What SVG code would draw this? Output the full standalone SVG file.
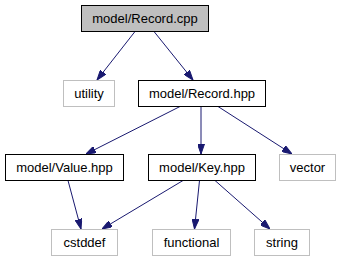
<svg xmlns="http://www.w3.org/2000/svg" width="343" height="261" viewBox="0 0 343 261">
  <style>
    .node rect { fill: #ffffff; stroke: #000000; stroke-width: 1; }
    .node.ext rect { stroke: #bfbfbf; }
    .node.root rect { fill: #bfbfbf; }
    .node text { font-family: "Liberation Sans", Arial, Helvetica, sans-serif; font-size: 13px; fill: #000000; text-anchor: middle; }
    .edges line { stroke: #191970; stroke-width: 1; fill: none; marker-end: url(#arrow); }
  </style>
  <defs>
    <marker id="arrow" viewBox="0 0 10 7" refX="10" refY="3.5" markerWidth="10" markerHeight="7" markerUnits="userSpaceOnUse" orient="auto">
      <path d="M0,0 L10,3.5 L0,7 Z" fill="#191970" stroke="#191970" stroke-width="1"/>
    </marker>
  </defs>
  <rect width="343" height="261" fill="#ffffff"/>

  <g class="edges">
    <line x1="135" y1="31.5" x2="97" y2="80"/>
    <line x1="154" y1="31.5" x2="193" y2="80"/>
    <line x1="180" y1="106.5" x2="86" y2="154"/>
    <line x1="201" y1="106.5" x2="201" y2="154"/>
    <line x1="218" y1="106.5" x2="292" y2="154"/>
    <line x1="68" y1="180.5" x2="81" y2="229"/>
    <line x1="183" y1="180.5" x2="102" y2="229"/>
    <line x1="199.5" y1="180.5" x2="194.5" y2="229"/>
    <line x1="215" y1="180.5" x2="270" y2="229"/>
  </g>

  <g id="record_cpp" class="node root">
    <rect x="81.5" y="5.5" width="127" height="26"/>
    <text x="145" y="22.5">model/Record.cpp</text>
  </g>
  <g id="utility" class="node ext">
    <rect x="63.5" y="80.5" width="51" height="26"/>
    <text x="89" y="97.5">utility</text>
  </g>
  <g id="record_hpp" class="node">
    <rect x="138.5" y="80.5" width="127" height="26"/>
    <text x="202" y="97.5">model/Record.hpp</text>
  </g>
  <g id="value_hpp" class="node">
    <rect x="5.5" y="154.5" width="118" height="26"/>
    <text x="64.5" y="171.5">model/Value.hpp</text>
  </g>
  <g id="key_hpp" class="node">
    <rect x="148.5" y="154.5" width="107" height="26"/>
    <text x="202" y="171.5">model/Key.hpp</text>
  </g>
  <g id="vector" class="node ext">
    <rect x="279.5" y="154.5" width="56" height="26"/>
    <text x="307.5" y="171.5">vector</text>
  </g>
  <g id="cstddef" class="node ext">
    <rect x="51.5" y="229.5" width="66" height="26"/>
    <text x="84.5" y="246.5">cstddef</text>
  </g>
  <g id="functional" class="node ext">
    <rect x="152.5" y="229.5" width="78" height="26"/>
    <text x="191.5" y="246.5">functional</text>
  </g>
  <g id="string" class="node ext">
    <rect x="254.5" y="229.5" width="55" height="26"/>
    <text x="282" y="246.5">string</text>
  </g>
</svg>
